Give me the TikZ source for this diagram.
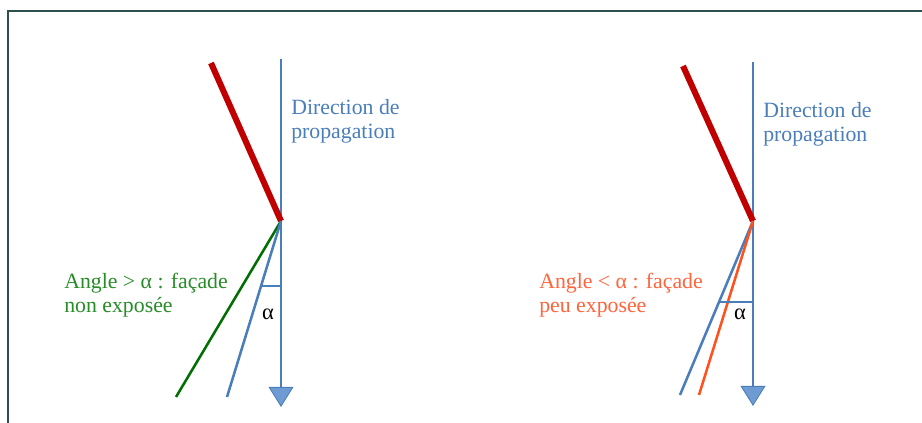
\documentclass[tikz,border=0pt]{standalone}
\usepackage{fontspec}
\setmainfont{Liberation Serif}
\usepackage{xcolor}
\usepackage{tikz}
\usetikzlibrary{arrows.meta, calc}
\definecolor{axisblue}{RGB}{74, 126, 187}
\definecolor{headblue}{RGB}{110, 155, 210}
\definecolor{wallred}{RGB}{192, 0, 0}
\definecolor{darkgreen}{RGB}{0, 110, 0}
\definecolor{textgreen}{RGB}{40, 140, 40}
\definecolor{rayorange}{RGB}{255, 80, 30}
\definecolor{textorange}{RGB}{255, 100, 60}
\definecolor{framegray}{RGB}{47, 79, 79}

\tikzset{
    axis/.style={axisblue, line width=2pt, -{Triangle[width=0.62cm, length=0.5cm, line width=0.6pt, fill=headblue]}},
    wall/.style={wallred, line width=4.3pt},
    ray/.style={line width=1.8pt},
    tick/.style={axisblue, line width=0.9pt},
    label/.style={font=\fontsize{15.5}{17}\selectfont, align=left, anchor=west, inner sep=0pt},
    anglelabel/.style={font=\fontsize{16}{17}\selectfont, inner sep=0pt}
}

\begin{document}
\begin{tikzpicture}
    \useasboundingbox (0,0) rectangle (23.05,10.575);

    % Frame (top and left edges)
    \draw[framegray, line width=1.4pt] (0.2,0) -- (0.2,10.3) -- (23.05,10.3);

    % Left case
    \coordinate (Ltop) at (7.025,9.1);
    \coordinate (Ltip) at (7.025,0.4);
    \coordinate (Lpivot) at (7.025,5.05);
    \coordinate (Lwall) at (5.275,9.0);
    \coordinate (Lgreen) at (4.4,0.65);
    \coordinate (Lblue) at (5.675,0.65);
    \draw[axis] (Ltop) -- (Ltip);
    \draw[wall] (Lwall) -- (Lpivot);
    \draw[ray, darkgreen] (Lpivot) -- (Lgreen);
    \draw[ray, axisblue] (Lpivot) -- (Lblue);
    \coordinate (Ltick) at ($(Lpivot)!0.37!(Lblue)$);
    \draw[tick] (Ltick) -- (Ltick -| Ltop);
    \node[anglelabel] (Lalpha) at (6.7,2.72) {α};
    \node[label, axisblue] (Ldir) at (7.275,7.55) {Direction de\\propagation};
    \node[label, textgreen] (Lcase) at (1.6,3.19) {Angle > α : façade\\non exposée};

    % Right case
    \coordinate (Rtop) at (18.825,9.025);
    \coordinate (Rtip) at (18.825,0.425);
    \coordinate (Rpivot) at (18.825,5.05);
    \coordinate (Rwall) at (17.075,8.925);
    \coordinate (Rblue) at (17.0,0.7);
    \coordinate (Rorange) at (17.475,0.7);
    \draw[axis] (Rtop) -- (Rtip);
    \draw[wall] (Rwall) -- (Rpivot);
    \draw[ray, axisblue] (Rpivot) -- (Rblue);
    \draw[ray, rayorange] (Rpivot) -- (Rorange);
    \coordinate (Rtick) at ($(Rpivot)!0.466!(Rblue)$);
    \draw[tick] (Rtick) -- (Rtick -| Rtop);
    \node[anglelabel] (Ralpha) at (18.5,2.72) {α};
    \node[label, axisblue] (Rdir) at (19.075,7.46) {Direction de\\propagation};
    \node[label, textorange] (Rcase) at (13.475,3.19) {Angle < α : façade\\peu exposée};
\end{tikzpicture}
\end{document}
